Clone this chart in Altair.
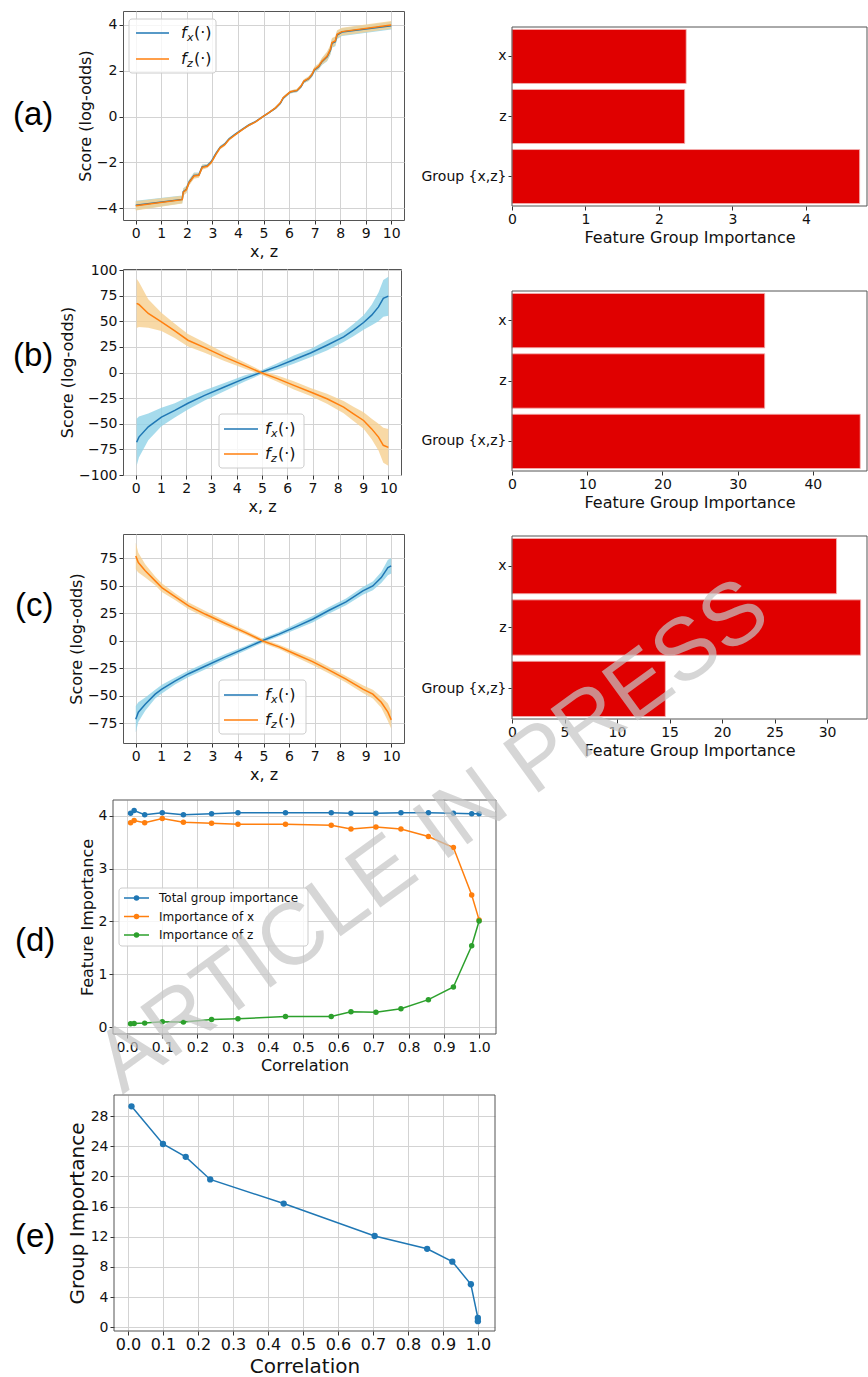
import altair as alt
import pandas as pd

FONT = "DejaVu Sans"
SANS = "Liberation Sans"
BLUE, ORANGE, GREEN = "#1f77b4", "#ff7f0e", "#2ca02c"
BAND_BLUE, BAND_ORANGE = "#90d2e7", "#f6cf90"
RED = "#e00000"
FRAME = "#555555"
GRID = "#d3d3d3"
INK = "#111111"

# ---------------- data ----------------
a_x = [0, 1.82, 1.86, 1.98, 2.08, 2.28, 2.47, 2.6, 2.8, 2.96, 3.13, 3.3, 3.48, 3.65, 3.9,
       4.17, 4.43, 4.69, 4.99, 5.2, 5.47, 5.66, 5.77, 5.92, 6.05, 6.31, 6.47, 6.58, 6.77,
       6.9, 6.99, 7.16, 7.29, 7.49, 7.62, 7.68, 7.81, 7.88, 8.07, 10]
a_fz = [-3.9, -3.63, -3.3, -3.2, -2.9, -2.6, -2.57, -2.22, -2.17, -2.0, -1.66, -1.37, -1.23,
        -1.0, -0.79, -0.57, -0.38, -0.23, 0.01, 0.16, 0.38, 0.6, 0.82, 0.96, 1.08, 1.14, 1.33,
        1.55, 1.66, 1.84, 2.06, 2.2, 2.42, 2.64, 2.93, 3.23, 3.3, 3.59, 3.71, 4.0]
a_fx = [-3.88, -3.62, -3.28, -3.18, -2.88, -2.57, -2.55, -2.2, -2.15, -1.97, -1.63, -1.35,
        -1.21, -0.98, -0.77, -0.56, -0.37, -0.22, 0.01, 0.16, 0.37, 0.58, 0.8, 0.95, 1.07,
        1.13, 1.31, 1.53, 1.65, 1.82, 2.03, 2.17, 2.4, 2.61, 2.9, 3.2, 3.27, 3.56, 3.69, 3.97]
a_err = [0.2, 0.17, 0.15, 0.15, 0.12, 0.12, 0.1, 0.1, 0.08, 0.08, 0.08, 0.07, 0.07, 0.06,
         0.05, 0.05, 0.05, 0.04, 0.04, 0.04, 0.05, 0.05, 0.06, 0.06, 0.06, 0.07, 0.08, 0.08,
         0.1, 0.1, 0.12, 0.12, 0.15, 0.2, 0.2, 0.2, 0.2, 0.18, 0.17, 0.17]

b_x = [0.04, 0.13, 0.5, 1.02, 1.55, 2.07, 2.73, 3.51, 4.3, 4.95, 5.61, 6.26, 6.92, 7.57,
       8.23, 8.62, 9.02, 9.34, 9.61, 9.8, 10.0]
b_fx = [-68, -63, -53, -43.5, -37, -30, -22.3, -14.2, -6, 0, 6, 12.5, 19, 26.6, 34.7, 41.3,
        48.8, 56, 64, 72.3, 74.5]
b_fx_err = [23, 20, 13, 9, 7, 6, 5, 4, 3, 2, 3, 4, 4, 5, 5, 6, 7, 10, 14, 18, 19]
b_fz = [67.4, 66.4, 57.6, 49.4, 40.6, 31.5, 24.3, 15.2, 7, 0, -6, -12.6, -19, -25.6, -33.8,
        -40.3, -46.8, -55, -63, -71, -73]
b_fz_err = [24, 22, 14, 9, 7, 6, 5, 4, 3, 2, 3, 4, 4, 5, 6, 7, 8, 10, 13, 17, 18]

c_x = [0, 0.1, 0.37, 0.76, 1.02, 1.55, 2.07, 2.73, 3.51, 4.3, 4.95, 5.61, 6.26, 6.92, 7.57,
       8.23, 8.89, 9.28, 9.61, 9.87, 10]
c_fx = [-71.4, -65, -57.7, -48.6, -44, -36.5, -30, -23, -14.7, -6.8, 0, 6, 12.6, 19.5, 27.7,
        35.3, 45.3, 49.8, 57.4, 66.5, 68]
c_fx_err = [12, 9, 6, 4, 4, 3, 3, 3, 2.5, 2, 2, 2, 2.5, 3, 3, 3, 3.5, 4, 5, 7, 7]
c_fz = [77, 71, 63.5, 54.4, 48.3, 39.8, 31.7, 24, 15.6, 7.4, 0, -5.6, -12.3, -19, -26.8, -35,
        -44, -48.6, -56, -65, -72]
c_fz_err = [12, 9, 6, 4, 4, 3, 3, 3, 2.5, 2, 2, 2, 2.5, 3, 3, 3, 3.5, 4, 5, 8, 8]

bar_labels = ["x", "z", "Group {x,z}"]
bar_a = [2.37, 2.35, 4.73]
bar_b = [33.6, 33.6, 46.3]
bar_c = [30.9, 33.2, 14.6]

d_series = ["Total group importance", "Importance of x", "Importance of z"]
d_corr = [0.01, 0.02, 0.05, 0.1, 0.16, 0.24, 0.315, 0.45, 0.58, 0.636, 0.707, 0.778, 0.856,
          0.927, 0.979, 1.0]
d_total = [4.05, 4.10, 4.02, 4.06, 4.02, 4.04, 4.06, 4.06, 4.06, 4.05, 4.05, 4.06, 4.06,
           4.05, 4.04, 4.04]
d_imp_x = [3.87, 3.91, 3.87, 3.95, 3.88, 3.86, 3.84, 3.84, 3.82, 3.75, 3.79, 3.75, 3.61,
           3.40, 2.50, 2.03]
d_imp_z = [0.063, 0.07, 0.076, 0.10, 0.095, 0.145, 0.158, 0.20, 0.20, 0.29, 0.28, 0.35, 0.52,
           0.76, 1.54, 2.01]

e_corr = [0.01, 0.1, 0.165, 0.235, 0.445, 0.705, 0.855, 0.927, 0.98, 1.0, 1.0]
e_imp = [29.3, 24.3, 22.6, 19.6, 16.4, 12.1, 10.4, 8.7, 5.7, 1.24, 0.8]

corr_ticks = [0.0, 0.1, 0.2, 0.3, 0.4, 0.5, 0.6, 0.7, 0.8, 0.9, 1.0]
xz_ticks = [0, 1, 2, 3, 4, 5, 6, 7, 8, 9, 10]

ONE = [{"k": 1}]


def vchart():
    return alt.Chart(alt.Data(values=ONE))


def axis(values, title, fmt=None, lsize=14, tsize=16, grid=True, tpad=3, offset=0, lpad=2):
    kw = dict(values=values, title=title, grid=grid, gridColor=GRID, gridWidth=1,
              domain=False, ticks=True, tickSize=4, tickColor="#333333", tickWidth=1,
              labelFont=FONT, labelFontSize=lsize, labelColor=INK, labelPadding=lpad,
              labelOverlap=False, labelFlush=False,
              titleFont=FONT, titleFontSize=tsize, titleFontWeight="normal",
              titleColor=INK, titlePadding=tpad)
    if fmt:
        kw["format"] = fmt
    if offset:
        kw["offset"] = offset
    return alt.Axis(**kw)


def panel_label(txt, tx, ty):
    return vchart().mark_text(text=txt, font=SANS, fontSize=33, align="left",
                              baseline="middle", color="#000000").encode(
        x=alt.value(tx), y=alt.value(ty))


def spacer(w, h):
    return vchart().mark_text(text=" ", fontSize=4).encode(
        x=alt.value(0), y=alt.value(0)).properties(
        width=w, height=h, view=alt.ViewBackground(stroke="transparent"))


def frame_rect(x0, x1, y0, y1):
    return vchart().mark_rect(fillOpacity=0, stroke=FRAME, strokeWidth=1).encode(
        x=alt.value(x0), x2=alt.value(x1), y=alt.value(y0), y2=alt.value(y1))


def fx_legend(bx0, by0, bx1, by1, rows, lx0, lx1, tx):
    out = [vchart().mark_rect(fill="white", fillOpacity=0.8, stroke="#cccccc", strokeWidth=1,
                              cornerRadius=3).encode(
        x=alt.value(bx0), x2=alt.value(bx1), y=alt.value(by0), y2=alt.value(by1))]
    for (sub, color), ry in zip([("x", BLUE), ("z", ORANGE)], rows):
        out.append(vchart().mark_rule(color=color, strokeWidth=1.5).encode(
            x=alt.value(lx0), x2=alt.value(lx1), y=alt.value(ry)))
        out.append(vchart().mark_text(text="f", font=FONT, fontStyle="italic", fontSize=16,
                                      align="left", baseline="middle", color=INK).encode(
            x=alt.value(tx), y=alt.value(ry)))
        out.append(vchart().mark_text(text=sub, font=FONT, fontStyle="italic", fontSize=11,
                                      align="left", baseline="middle", color=INK).encode(
            x=alt.value(tx + 6), y=alt.value(ry + 5)))
        out.append(vchart().mark_text(text="(·)", font=FONT, fontSize=16,
                                      align="left", baseline="middle", color=INK).encode(
            x=alt.value(tx + 13), y=alt.value(ry)))
    return out


def line_panel(xs, fx, fxe, fz, fze, ydom, yvals, w, h, leg, lab):
    df = pd.DataFrame({
        "x": xs, "fx": fx, "fz": fz,
        "fx_lo": [v - e for v, e in zip(fx, fxe)],
        "fx_hi": [v + e for v, e in zip(fx, fxe)],
        "fz_lo": [v - e for v, e in zip(fz, fze)],
        "fz_hi": [v + e for v, e in zip(fz, fze)],
    })
    xsc = alt.Scale(domain=[-0.5, 10.5], nice=False, zero=False)
    ysc = alt.Scale(domain=ydom, nice=False, zero=False)
    X = alt.X("x:Q", scale=xsc, axis=axis(xz_ticks, "x, z"))

    def Y(f):
        return alt.Y(f + ":Q", scale=ysc, axis=axis(yvals, "Score (log-odds)"))

    base = alt.Chart(df)
    layers = [
        base.mark_area(color=BAND_BLUE, opacity=0.8).encode(x=X, y=Y("fx_lo"), y2="fx_hi:Q"),
        base.mark_area(color=BAND_ORANGE, opacity=0.8).encode(x=X, y=Y("fz_lo"), y2="fz_hi:Q"),
        base.mark_line(color=BLUE, strokeWidth=1.5).encode(x=X, y=Y("fx")),
        base.mark_line(color=ORANGE, strokeWidth=1.5).encode(x=X, y=Y("fz")),
    ]
    layers += fx_legend(*leg)
    layers.append(panel_label(*lab))
    return alt.layer(*layers).properties(width=w, height=h)


def bar_panel(vals, xmax, xvals, w, h, top, bot):
    df = pd.DataFrame({"feature": bar_labels, "imp": vals})
    bars = alt.Chart(df).mark_bar(color=RED, stroke="#f4b6b6", strokeWidth=0.8).encode(
        x=alt.X("imp:Q", scale=alt.Scale(domain=[0, xmax], nice=False, zero=True),
                axis=axis(xvals, "Feature Group Importance", grid=False, offset=-(h - bot))),
        y=alt.Y("feature:N", sort=bar_labels,
                scale=alt.Scale(range=[top, bot], paddingInner=0.1, paddingOuter=0.04),
                axis=alt.Axis(title=None, labelFont=FONT, labelFontSize=14, labelColor=INK,
                              tickSize=4, tickColor="#333333", domain=False, grid=False,
                              labelPadding=2)),
    )
    return alt.layer(bars, frame_rect(0, w, top, bot)).properties(
        width=w, height=h, view=alt.ViewBackground(stroke="transparent"))


def d_panel():
    rows = []
    for name, vals in zip(d_series, [d_total, d_imp_x, d_imp_z]):
        for c, v in zip(d_corr, vals):
            rows.append({"corr": c, "val": v, "series": name})
    df = pd.DataFrame(rows)
    X = alt.X("corr:Q", scale=alt.Scale(domain=[-0.04, 1.048], range=[-10, 373],
                                        nice=False, zero=False),
              axis=axis(corr_ticks, "Correlation", fmt=".1f"))
    Y = alt.Y("val:Q", scale=alt.Scale(domain=[-0.13, 4.30], nice=False, zero=False),
              axis=axis([0, 1, 2, 3, 4], "Feature Importance", offset=10))
    C = alt.Color("series:N", scale=alt.Scale(domain=d_series, range=[BLUE, ORANGE, GREEN]),
                  legend=None)
    base = alt.Chart(df)
    layers = [
        frame_rect(-10, 373, 0, 234),
        base.mark_line(strokeWidth=1.5).encode(x=X, y=Y, color=C),
        base.mark_circle(size=30, opacity=1).encode(x=X, y=Y, color=C),
        vchart().mark_rect(fill="white", fillOpacity=0.8, stroke="#cccccc", strokeWidth=1,
                           cornerRadius=3).encode(
            x=alt.value(-4), x2=alt.value(185), y=alt.value(88), y2=alt.value(146)),
    ]
    for name, col, ry in zip(d_series, [BLUE, ORANGE, GREEN], [98, 116.5, 135]):
        layers.append(vchart().mark_rule(color=col, strokeWidth=1.5).encode(
            x=alt.value(1), x2=alt.value(26), y=alt.value(ry)))
        layers.append(vchart().mark_circle(color=col, size=30, opacity=1).encode(
            x=alt.value(13.5), y=alt.value(ry)))
        layers.append(vchart().mark_text(text=name, font=FONT, fontSize=12, align="left",
                                         baseline="middle", color=INK).encode(
            x=alt.value(36), y=alt.value(ry)))
    layers.append(panel_label("(d)", -108, 141))
    layers.append(vchart().mark_text(text="ARTICLE IN PRESS", font=SANS, fontSize=88,
                                     angle=324, align="center", baseline="middle",
                                     color="#c6c6c6", opacity=0.7).encode(
        x=alt.value(310), y=alt.value(37)))
    return alt.layer(*layers).properties(width=373, height=234,
                                         view=alt.ViewBackground(stroke="transparent"))


def e_panel():
    df = pd.DataFrame({"corr": e_corr, "imp": e_imp})
    X = alt.X("corr:Q", scale=alt.Scale(domain=[-0.04, 1.049], range=[-9, 372],
                                        nice=False, zero=False),
              axis=axis(corr_ticks, "Correlation", fmt=".1f", lsize=16, tsize=20, tpad=4,
                        lpad=1))
    Y = alt.Y("imp:Q", scale=alt.Scale(domain=[-0.5, 30.8], nice=False, zero=False),
              axis=axis([0, 4, 8, 12, 16, 20, 24, 28], "Group Importance", lsize=14, tsize=20,
                        offset=9))
    base = alt.Chart(df)
    return alt.layer(
        frame_rect(-9, 372, 0, 236),
        base.mark_line(color=BLUE, strokeWidth=1.5).encode(x=X, y=Y),
        base.mark_circle(color=BLUE, size=40, opacity=1).encode(x=X, y=Y),
        panel_label("(e)", -108, 142),
    ).properties(width=372, height=236, view=alt.ViewBackground(stroke="transparent"))


lineA = line_panel(a_x, a_fx, a_err, a_fz, a_err, [-4.52, 4.61], [-4, -2, 0, 2, 4], 281, 209,
                   (6, 8, 93, 62, [22, 48], 13, 46, 58), ("(a)", -110, 104))
lineB = line_panel(b_x, b_fx, b_fx_err, b_fz, b_fz_err, [-100, 101],
                   [-100, -75, -50, -25, 0, 25, 50, 75, 100], 278, 206,
                   (96, 145, 181, 199, [160, 185], 101, 135, 142), ("(b)", -110, 87))
lineC = line_panel(c_x, c_fx, c_fx_err, c_fz, c_fz_err, [-93, 97],
                   [-75, -50, -25, 0, 25, 50, 75], 281, 209,
                   (96, 146, 183, 200, [161, 186], 101, 135, 142), ("(c)", -108, 72))

# bar chart heights include the gap to the next row
barA = bar_panel(bar_a, 4.83, [0, 1, 2, 3, 4], 355, 258, 16, 195)
barB = bar_panel(bar_b, 47.2, [0, 10, 20, 30, 40], 355, 265, 22, 202)
barC = bar_panel(bar_c, 33.8, [0, 5, 10, 15, 20, 25, 30], 355, 266, 2, 185)

chart = alt.concat(
    lineA, barA,
    lineB, barB,
    lineC, barC,
    d_panel(), spacer(1, 295),
    e_panel(), spacer(1, 1),
    columns=2, spacing={"row": 0, "column": 16}, bounds="flush", align="each",
).properties(
    padding={"left": 12, "top": 10, "right": 0, "bottom": 0}
).configure_view(stroke=FRAME, strokeWidth=1)

chart.save("out.html", embed_options={"renderer": "svg", "actions": False})
